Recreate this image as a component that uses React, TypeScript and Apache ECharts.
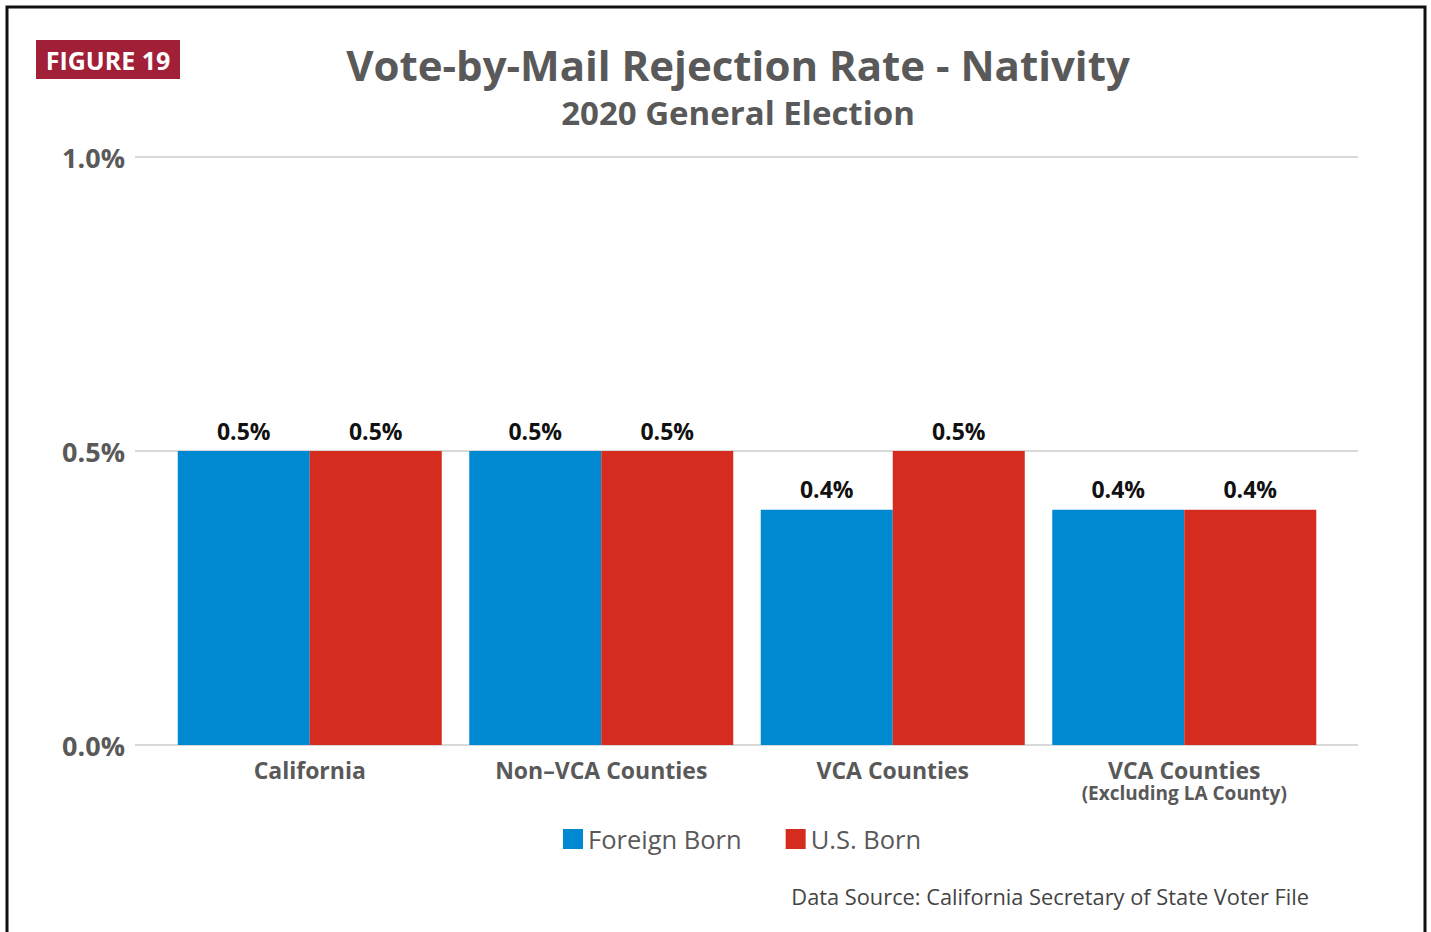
import React, { useEffect, useRef } from "react";
import * as echarts from "echarts";

const categories = ["California", "Non–VCA Counties", "VCA Counties", "VCA Counties\n(Excluding LA County)"];
const foreignBorn = [0.5, 0.5, 0.4, 0.4];
const usBorn = [0.5, 0.5, 0.5, 0.4];
const seriesNames = ["Foreign Born", "U.S. Born"];
const yTicks = { min: 0, max: 1, interval: 0.5 };

const FONT = "'Open Sans', 'Noto Sans', sans-serif";
const GRAY = "#595959";
const BLUE = "#0089D1";
const RED = "#D62B1F";

export default function App() {
  const ref = useRef<HTMLDivElement>(null);
  useEffect(() => {
    if (!ref.current) return;
    const chart = echarts.init(ref.current, null, { renderer: "svg" });
    const label = {
      show: true,
      position: "top",
      distance: 9,
      fontFamily: FONT,
      fontSize: 23,
      fontWeight: "bold",
      color: "#111",
      formatter: (p: any) => Number(p.value).toFixed(1) + "%",
    };
    chart.setOption({
      animation: false,
      backgroundColor: "#fff",
      textStyle: { fontFamily: FONT },
      grid: [
        { left: 135, right: 73, top: 157, bottom: 187 },
        { left: 164, right: 101, top: 157, bottom: 187 },
      ],
      xAxis: [
        { type: "value", gridIndex: 0, min: 0, max: 1, show: false },
        {
          type: "category",
          gridIndex: 1,
          data: categories,
          axisLine: { show: false },
          axisTick: { show: false },
          axisLabel: {
            margin: 13,
            interval: 0,
            fontFamily: FONT,
            fontSize: 23,
            fontWeight: "bold",
            color: GRAY,
            formatter: (v: string) => v.split("\n")[0],
          },
        },
        {
          type: "category",
          gridIndex: 1,
          position: "bottom",
          data: categories,
          axisLine: { show: false },
          axisTick: { show: false },
          axisLabel: {
            margin: 38,
            interval: 0,
            fontFamily: FONT,
            fontSize: 19,
            fontWeight: "bold",
            color: GRAY,
            formatter: (v: string) => v.split("\n")[1] || "",
          },
        },
      ],
      yAxis: [
        {
          type: "value",
          gridIndex: 0,
          min: yTicks.min,
          max: yTicks.max,
          interval: yTicks.interval,
          axisLine: { show: false },
          axisTick: { show: false },
          axisLabel: {
            margin: 10,
            fontFamily: FONT,
            fontSize: 27,
            fontWeight: "bold",
            color: GRAY,
            formatter: (v: number) => v.toFixed(1) + "%",
          },
          splitLine: { lineStyle: { color: "#d9d9d9", width: 2 } },
        },
        {
          type: "value",
          gridIndex: 1,
          min: yTicks.min,
          max: yTicks.max,
          interval: yTicks.interval,
          show: false,
          splitLine: { show: false },
        },
      ],
      legend: {
        left: 563,
        top: 826,
        padding: 0,
        itemWidth: 20,
        itemHeight: 20,
        itemGap: 44,
        icon: "rect",
        data: seriesNames,
        textStyle: { fontFamily: FONT, fontSize: 25.5, color: GRAY },
      },
      series: [
        {
          name: seriesNames[0],
          type: "bar",
          xAxisIndex: 1,
          yAxisIndex: 1,
          data: foreignBorn,
          barWidth: 132,
          barGap: "0%",
          itemStyle: { color: BLUE },
          label,
        },
        {
          name: seriesNames[1],
          type: "bar",
          xAxisIndex: 1,
          yAxisIndex: 1,
          data: usBorn,
          barWidth: 132,
          barGap: "0%",
          itemStyle: { color: RED },
          label,
        },
      ],
      graphic: [
        {
          type: "rect",
          shape: { x: 7, y: 7, width: 1418, height: 1000 },
          style: { fill: "none", stroke: "#111", lineWidth: 3 },
          silent: true,
        },
        {
          type: "rect",
          shape: { x: 36, y: 40, width: 144, height: 39 },
          style: { fill: "#A21F38" },
        },
        {
          type: "text",
          x: 108,
          y: 60,
          style: {
            text: "FIGURE 19",
            fill: "#fff",
            fontFamily: FONT,
            fontSize: 25,
            fontWeight: "bold",
            textAlign: "center",
            textVerticalAlign: "middle",
          },
        },
        {
          type: "text",
          x: 738,
          y: 64,
          style: {
            text: "Vote-by-Mail Rejection Rate - Nativity",
            fill: GRAY,
            fontFamily: FONT,
            fontSize: 42,
            fontWeight: "bold",
            textAlign: "center",
            textVerticalAlign: "middle",
          },
        },
        {
          type: "text",
          x: 738,
          y: 112,
          style: {
            text: "2020 General Election",
            fill: GRAY,
            fontFamily: FONT,
            fontSize: 33,
            fontWeight: "bold",
            textAlign: "center",
            textVerticalAlign: "middle",
          },
        },
        {
          type: "text",
          x: 1309,
          y: 896,
          style: {
            text: "Data Source: California Secretary of State Voter File",
            fill: "#444",
            fontFamily: FONT,
            fontSize: 21.8,
            textAlign: "right",
            textVerticalAlign: "middle",
          },
        },
      ],
    });
    return () => chart.dispose();
  }, []);
  return (
    <div
      ref={ref}
      style={{ position: "fixed", left: 0, top: 0, width: 1431, height: 932 }}
    />
  );
}
